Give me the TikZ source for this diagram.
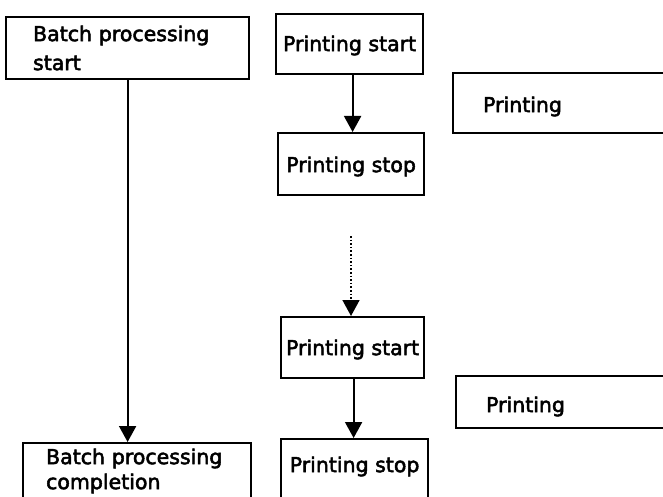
\documentclass[tikz,border=0pt]{standalone}
\usepackage{fontspec}
\setmainfont{DejaVu Sans}[FakeBold=2.5]
\usetikzlibrary{arrows.meta}
\tikzset{
  box/.style={draw, line width=2.2pt, anchor=north west, inner ysep=0pt, font=\fontsize{20.5}{29}\selectfont},
  cbox/.style={box, inner xsep=0pt, align=center},
  flow/.style={line width=2pt, -{Triangle[width=17pt,length=16pt]}},
  dotflow/.style={line width=1.6pt, dotted, -{Triangle[width=17pt,length=16pt]}}
}
\begin{document}
\begin{tikzpicture}[x=1pt,y=-1pt]
\useasboundingbox (0,0) rectangle (663,497);
\clip (0,0) rectangle (663,497);
% left column
\node[box, inner xsep=27pt, text width=189pt, align=left, text height=24pt, text depth=38pt] (bps) at (5,16) {Batch processing\\start};
\node[box, inner xsep=23pt, text width=182pt, align=left, text height=21pt, text depth=36pt, font=\fontsize{20.5}{25}\selectfont] (bpc) at (22,442) {Batch processing\\completion};
% middle column
\node[cbox, minimum width=147pt, text height=37pt, text depth=23pt] (ps1) at (275,13) {Printing start};
\node[cbox, minimum width=146pt, text height=39pt, text depth=23pt] (pst1) at (277,132) {Printing stop};
\node[cbox, minimum width=143pt, text height=38pt, text depth=23pt] (ps2) at (280,316) {Printing start};
\node[cbox, minimum width=147pt, text height=33pt, text depth=26pt] (pst2) at (280,438) {Printing stop};
% right column
\node[box, inner xsep=30pt, minimum width=230pt, align=left, text height=39pt, text depth=21pt, text width=170pt] (pr1) at (452,72) {Printing};
\node[box, inner xsep=30pt, minimum width=230pt, align=left, text height=36pt, text depth=16pt, text width=170pt] (pr2) at (455,375) {Printing};
% connectors
\draw[flow] (bps.south) -- (bps.south |- bpc.north);
\draw[flow] ([xshift=3pt]ps1.south) -- ([xshift=3pt]ps1.south |- pst1.north);
\coordinate (dots) at (351,236);
\draw[dotflow] (dots) -- (dots |- ps2.north);
\draw[flow] ([xshift=1pt]ps2.south) -- ([xshift=1pt]ps2.south |- pst2.north);
\end{tikzpicture}
\end{document}
